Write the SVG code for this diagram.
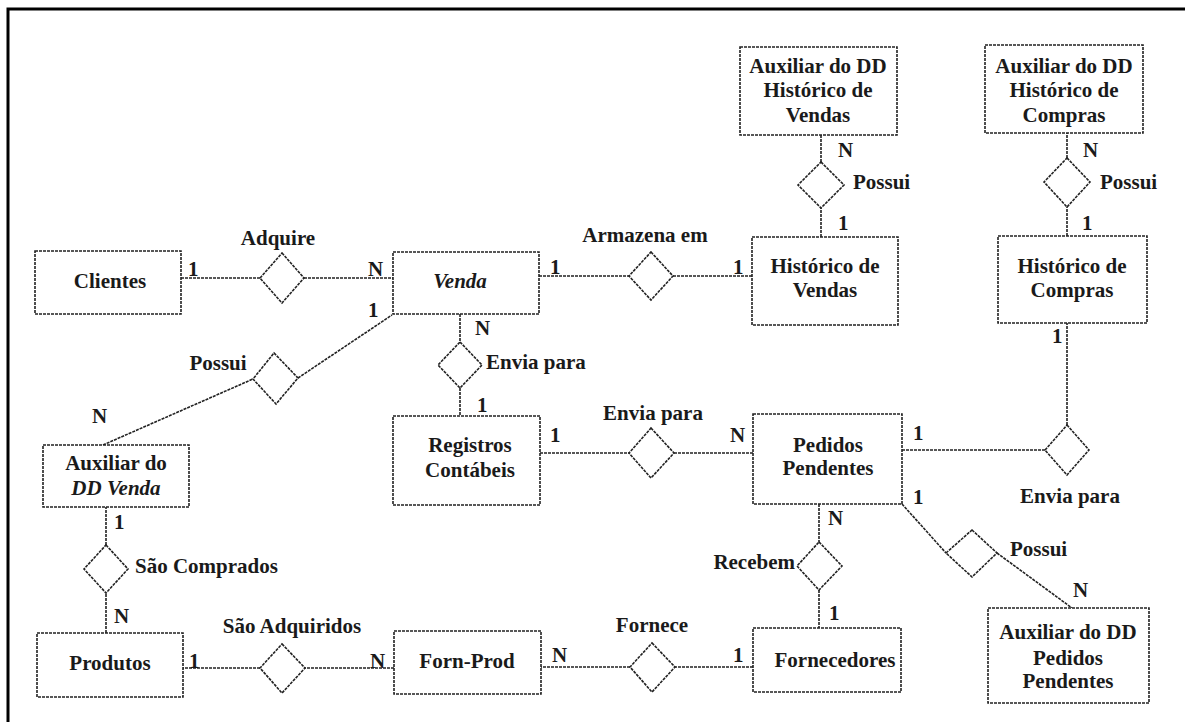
<svg xmlns="http://www.w3.org/2000/svg" width="1185" height="722" viewBox="0 0 1185 722">
  <style>
    .ent { fill: #fff; stroke: #222; stroke-width: 1.6; stroke-dasharray: 3 1; }
    .rel { fill: #fff; stroke: #222; stroke-width: 1.6; stroke-dasharray: 3 1; }
    .conn line, .conn polyline { stroke: #222; stroke-width: 1.6; stroke-dasharray: 3 1; fill: none; }
    text { font-family: "Liberation Serif", "Times New Roman", serif; font-weight: bold; font-size: 21px; fill: #1a1a1a; }
    .c { text-anchor: middle; }
    .it { font-style: italic; }
    .frame { stroke: #000; stroke-width: 3; fill: none; }
  </style>

  <rect x="0" y="0" width="1185" height="722" fill="#fff"/>
  <!-- page frame (left and top edges) -->
  <polyline class="frame" points="8,722 8,9 1185,9"/>

  <!-- connectors -->
  <g id="connectors" class="conn">
    <line x1="181" y1="278" x2="260" y2="278"/>
    <line x1="304" y1="278" x2="393" y2="278"/>
    <line x1="539" y1="276" x2="629" y2="276"/>
    <line x1="673" y1="276" x2="752" y2="276"/>
    <line x1="821" y1="237" x2="821" y2="208"/>
    <line x1="821" y1="162" x2="821" y2="135"/>
    <line x1="1067" y1="236" x2="1067" y2="207"/>
    <line x1="1067" y1="158" x2="1067" y2="133"/>
    <line x1="460" y1="314" x2="460" y2="342"/>
    <line x1="460" y1="388" x2="460" y2="416"/>
    <line x1="540" y1="453" x2="629" y2="453"/>
    <line x1="674" y1="453" x2="753" y2="453"/>
    <line x1="902" y1="450" x2="1045" y2="450"/>
    <line x1="1067" y1="425" x2="1067" y2="323"/>
    <line x1="902" y1="504" x2="946" y2="553"/>
    <line x1="997" y1="553" x2="1072" y2="608"/>
    <line x1="819" y1="504" x2="819" y2="542"/>
    <line x1="819" y1="590" x2="819" y2="628"/>
    <line x1="753" y1="667" x2="675" y2="667"/>
    <line x1="630" y1="667" x2="541" y2="667"/>
    <line x1="394" y1="668" x2="305" y2="668"/>
    <line x1="260" y1="668" x2="183" y2="668"/>
    <line x1="106" y1="633" x2="106" y2="593"/>
    <line x1="106" y1="545" x2="106" y2="507"/>
    <line x1="103" y1="445" x2="253" y2="379"/>
    <line x1="298" y1="378" x2="392" y2="315"/>
  </g>

  <!-- entities -->
  <g id="clientes">
    <rect class="ent" x="35" y="251" width="146" height="63"/>
    <text class="c" x="110" y="288">Clientes</text>
  </g>
  <g id="venda">
    <rect class="ent" x="393" y="252" width="146" height="62"/>
    <text class="c it" x="460" y="288">Venda</text>
  </g>
  <g id="historico-vendas">
    <rect class="ent" x="752" y="237" width="146" height="88"/>
    <text class="c" x="825" y="273">Histórico de</text>
    <text class="c" x="825" y="297">Vendas</text>
  </g>
  <g id="aux-historico-vendas">
    <rect class="ent" x="740" y="47" width="157" height="88"/>
    <text class="c" x="818" y="73">Auxiliar do DD</text>
    <text class="c" x="818" y="97">Histórico de</text>
    <text class="c" x="818" y="122">Vendas</text>
  </g>
  <g id="aux-historico-compras">
    <rect class="ent" x="985" y="45" width="158" height="88"/>
    <text class="c" x="1064" y="73">Auxiliar do DD</text>
    <text class="c" x="1064" y="97">Histórico de</text>
    <text class="c" x="1064" y="122">Compras</text>
  </g>
  <g id="historico-compras">
    <rect class="ent" x="998" y="236" width="149" height="87"/>
    <text class="c" x="1072" y="273">Histórico de</text>
    <text class="c" x="1072" y="297">Compras</text>
  </g>
  <g id="registros-contabeis">
    <rect class="ent" x="393" y="416" width="147" height="89"/>
    <text class="c" x="470" y="452">Registros</text>
    <text class="c" x="470" y="477">Contábeis</text>
  </g>
  <g id="pedidos-pendentes">
    <rect class="ent" x="753" y="414" width="149" height="90"/>
    <text class="c" x="828" y="452">Pedidos</text>
    <text class="c" x="828" y="475">Pendentes</text>
  </g>
  <g id="aux-venda">
    <rect class="ent" x="43" y="445" width="146" height="62"/>
    <text class="c" x="116" y="470">Auxiliar do</text>
    <text class="c it" x="116" y="495">DD Venda</text>
  </g>
  <g id="produtos">
    <rect class="ent" x="37" y="633" width="146" height="64"/>
    <text class="c" x="110" y="670">Produtos</text>
  </g>
  <g id="forn-prod">
    <rect class="ent" x="394" y="631" width="147" height="63"/>
    <text class="c" x="467" y="668">Forn-Prod</text>
  </g>
  <g id="fornecedores">
    <rect class="ent" x="753" y="628" width="148" height="64"/>
    <text class="c" x="835" y="667">Fornecedores</text>
  </g>
  <g id="aux-pedidos-pendentes">
    <rect class="ent" x="988" y="608" width="161" height="95"/>
    <text class="c" x="1068" y="639">Auxiliar do DD</text>
    <text class="c" x="1068" y="665">Pedidos</text>
    <text class="c" x="1068" y="688">Pendentes</text>
  </g>

  <!-- relationships -->
  <g id="rel-adquire">
    <polygon class="rel" points="282,253 304,278 282,303 260,278"/>
    <text class="c" x="278" y="245">Adquire</text>
  </g>
  <g id="rel-armazena">
    <polygon class="rel" points="651,252 673,276 651,300 629,276"/>
    <text class="c" x="645" y="242">Armazena em</text>
  </g>
  <g id="rel-possui-hv">
    <polygon class="rel" points="821,162 844,185 821,208 798,185"/>
    <text x="853" y="189">Possui</text>
  </g>
  <g id="rel-possui-hc">
    <polygon class="rel" points="1067,158 1090,182 1067,207 1044,182"/>
    <text x="1100" y="189">Possui</text>
  </g>
  <g id="rel-envia-registros">
    <polygon class="rel" points="460,342 482,365 460,388 438,365"/>
    <text x="486" y="369">Envia para</text>
  </g>
  <g id="rel-envia-pedidos">
    <polygon class="rel" points="651,428 674,453 651,478 629,453"/>
    <text class="c" x="653" y="420">Envia para</text>
  </g>
  <g id="rel-envia-historico">
    <polygon class="rel" points="1067,425 1089,450 1067,475 1045,450"/>
    <text class="c" x="1070" y="503">Envia para</text>
  </g>
  <g id="rel-possui-venda">
    <polygon class="rel" points="274,353 298,378 276,404 253,379"/>
    <text class="c" x="218" y="370">Possui</text>
  </g>
  <g id="rel-possui-pedidos">
    <polygon class="rel" points="972,530 997,553 972,577 946,553"/>
    <text x="1010" y="556">Possui</text>
  </g>
  <g id="rel-recebem">
    <polygon class="rel" points="819,542 842,566 819,590 797,566"/>
    <text x="795" y="569" text-anchor="end">Recebem</text>
  </g>
  <g id="rel-sao-comprados">
    <polygon class="rel" points="106,545 128,569 106,593 84,569"/>
    <text x="135" y="573">São Comprados</text>
  </g>
  <g id="rel-sao-adquiridos">
    <polygon class="rel" points="282,644 305,668 282,693 260,668"/>
    <text class="c" x="292" y="633">São Adquiridos</text>
  </g>
  <g id="rel-fornece">
    <polygon class="rel" points="652,643 675,667 652,692 630,667"/>
    <text class="c" x="652" y="632">Fornece</text>
  </g>

  <!-- cardinalities -->
  <g id="cardinalities">
    <text x="188" y="276">1</text>
    <text x="368" y="276">N</text>
    <text x="368" y="317">1</text>
    <text x="550" y="274">1</text>
    <text x="733" y="274">1</text>
    <text x="838" y="157">N</text>
    <text x="838" y="230">1</text>
    <text x="1083" y="157">N</text>
    <text x="1082" y="230">1</text>
    <text x="1052" y="343">1</text>
    <text x="475" y="335">N</text>
    <text x="477" y="412">1</text>
    <text x="550" y="442">1</text>
    <text x="730" y="442">N</text>
    <text x="913" y="440">1</text>
    <text x="913" y="504">1</text>
    <text x="828" y="525">N</text>
    <text x="829" y="620">1</text>
    <text x="1073" y="597">N</text>
    <text x="552" y="662">N</text>
    <text x="733" y="662">1</text>
    <text x="189" y="668">1</text>
    <text x="370" y="668">N</text>
    <text x="114" y="529">1</text>
    <text x="114" y="623">N</text>
    <text x="92" y="423">N</text>
  </g>
</svg>
